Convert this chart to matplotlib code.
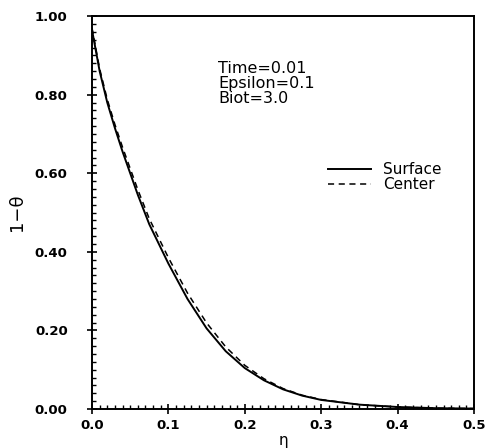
import matplotlib
matplotlib.use("Agg")
import matplotlib.pyplot as plt
from matplotlib.ticker import MultipleLocator

# Data
eta = [0.0, 0.01, 0.02, 0.03, 0.04, 0.05, 0.06, 0.075, 0.1, 0.125, 0.15, 0.175,
       0.2, 0.225, 0.25, 0.275, 0.3, 0.35, 0.4, 0.45, 0.5]
surface = [0.965, 0.86, 0.78, 0.715, 0.655, 0.60, 0.545, 0.47, 0.37, 0.28, 0.205, 0.147,
           0.104, 0.073, 0.050, 0.034, 0.023, 0.011, 0.005, 0.002, 0.001]
center = [0.970, 0.866, 0.788, 0.724, 0.666, 0.612, 0.558, 0.484, 0.385, 0.295, 0.219, 0.158,
          0.111, 0.077, 0.052, 0.035, 0.024, 0.011, 0.005, 0.002, 0.001]

xticks = [0.0, 0.1, 0.2, 0.3, 0.4, 0.5]
xticklabels = ["0.0", "0.1", "0.2", "0.3", "0.4", "0.5"]
yticks = [0.0, 0.2, 0.4, 0.6, 0.8, 1.0]
yticklabels = ["0.00", "0.20", "0.40", "0.60", "0.80", "1.00"]
annotation = ["Time=0.01", "Epsilon=0.1", "Biot=3.0"]

fig = plt.figure(figsize=(4.88, 4.48), dpi=100)
ax = fig.add_axes([0.1885, 0.0871, 0.783, 0.877])

ax.plot(eta, surface, color="black", lw=1.4, label="Surface")
ax.plot(eta, center, color="black", lw=1.1, ls=(0, (4, 3)), label="Center")

ax.set_xlim(0, 0.5)
ax.set_ylim(0, 1.0)
ax.set_xticks(xticks)
ax.set_xticklabels(xticklabels)
ax.set_yticks(yticks)
ax.set_yticklabels(yticklabels)
ax.xaxis.set_minor_locator(MultipleLocator(0.01))
ax.yaxis.set_minor_locator(MultipleLocator(0.02))
ax.tick_params(which="major", direction="inout", length=7, width=1.2, labelsize=9.5)
ax.tick_params(axis="y", which="major", pad=14)
ax.tick_params(which="minor", direction="in", length=3, width=1.0)
for lab in ax.get_xticklabels() + ax.get_yticklabels():
    lab.set_fontweight("bold")
for s in ax.spines.values():
    s.set_linewidth(1.4)

ax.set_xlabel("η", fontsize=11, labelpad=1)
ax.set_ylabel("1−θ", fontsize=13, labelpad=6)

ax.text(0.165, 0.885, "\n".join(annotation), fontsize=11.5, va="top", ha="left",
        linespacing=1.0)

ax.legend(loc="upper left", bbox_to_anchor=(0.59, 0.655), frameon=False,
          fontsize=11, handlelength=2.8, labelspacing=0.0, handletextpad=0.8,
          borderpad=0.2)

fig.savefig("out.png", dpi=100)
